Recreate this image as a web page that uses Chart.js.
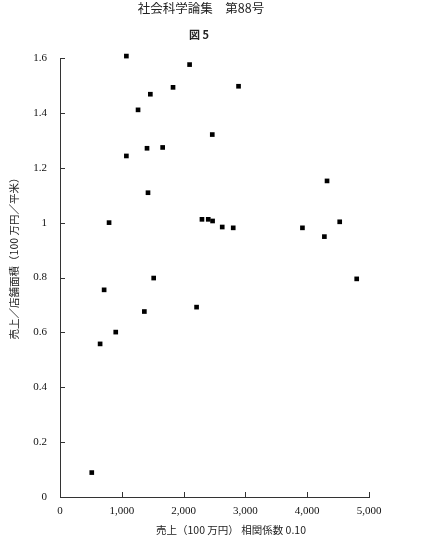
<!DOCTYPE html>
<html>
<head>
<meta charset="utf-8">
<script src="https://cdn.jsdelivr.net/npm/chart.js@4.4.1/dist/chart.umd.min.js"></script>
<style>
  html, body { margin: 0; padding: 0; background: #fff; }
  #wrap { width: 430px; height: 537px; }
</style>
</head>
<body>
<div id="wrap"><canvas id="scatterChart" width="430" height="537"></canvas></div>
<script>
const ctx = document.getElementById('scatterChart')

// texts
let headerText = '社会科学論集　第88号'
let figureText = '図 5'
let xTitle = '売上（100 万円） 相関係数 0.10'
let yTitle = '売上／店舗面積（100 万円／平米）'

// sales (100万円) and sales per floor area
let sales = [
  514, 649, 714, 794, 902, 1074, 1074, 1263, 1365, 1408,
  1424, 1462, 1516, 1661, 1829, 2097, 2210, 2297, 2399, 2464,
  2469, 2625, 2803, 2889, 3923, 4278, 4321, 4526, 4801
]
let salesPerArea = [
  0.089, 0.558, 0.755, 1.0, 0.601, 1.607, 1.243, 1.411, 0.676, 1.271,
  1.109, 1.468, 0.798, 1.274, 1.493, 1.576, 0.692, 1.012, 1.012, 1.321,
  1.006, 0.984, 0.981, 1.497, 0.981, 0.949, 1.152, 1.003, 0.795
]

let xTickLabels = ['0', '1,000', '2,000', '3,000', '4,000', '5,000']
let yTickLabels = ['0', '0.2', '0.4', '0.6', '0.8', '1', '1.2', '1.4', '1.6']

const points = sales.map((s, i) => ({ x: s, y: salesPerArea[i] }))

const tickFont = { family: '"Liberation Serif", "DejaVu Serif", serif', size: 11 }
const cjkFont = '"Noto Sans CJK JP", sans-serif'

// short inward tick marks + title texts
const extras = {
  id: 'extras',
  afterDraw(chart) {
    const { ctx, chartArea, scales } = chart
    ctx.save()
    ctx.strokeStyle = '#333'
    ctx.lineWidth = 1
    ctx.beginPath()
    scales.y.ticks.forEach(t => {
      const y = Math.round(scales.y.getPixelForValue(t.value)) + 0.5
      ctx.moveTo(chartArea.left, y)
      ctx.lineTo(chartArea.left + 5, y)
    })
    scales.x.ticks.forEach(t => {
      const x = Math.round(scales.x.getPixelForValue(t.value)) + 0.5
      ctx.moveTo(x, chartArea.bottom)
      ctx.lineTo(x, chartArea.bottom - 5)
    })
    ctx.stroke()

    ctx.fillStyle = '#222'
    ctx.textAlign = 'center'
    ctx.textBaseline = 'middle'
    ctx.font = '12.5px ' + cjkFont
    ctx.fillText(headerText, 201, 8)
    ctx.font = 'bold 11px ' + cjkFont
    ctx.fillText(figureText, 199, 35)
    ctx.font = '10.5px ' + cjkFont
    ctx.fillText(xTitle, 231, 530)

    ctx.translate(14, 256)
    ctx.rotate(-Math.PI / 2)
    ctx.fillText(yTitle, 0, 0)
    ctx.restore()
  }
}

new Chart(ctx, {
  type: 'scatter',
  data: {
    datasets: [{
      data: points,
      pointStyle: 'rect',
      pointRadius: 3.3,
      pointHoverRadius: 3.3,
      backgroundColor: '#000',
      borderWidth: 0,
      clip: false,
    }],
  },
  options: {
    responsive: false,
    animation: false,
    layout: {
      padding: { top: 58, right: 61, left: 0, bottom: 0 },
    },
    scales: {
      x: {
        type: 'linear',
        min: 0,
        max: 5000,
        afterFit: scale => { scale.height = 40 },
        afterBuildTicks: scale => {
          scale.ticks = [0, 1000, 2000, 3000, 4000, 5000].map(v => ({ value: v }))
        },
        grid: { display: false, drawTicks: false },
        border: { display: true, color: '#333', width: 1 },
        ticks: {
          padding: 8,
          color: '#111',
          font: tickFont,
          maxRotation: 0,
          callback: (value, index) => xTickLabels[index],
        },
      },
      y: {
        type: 'linear',
        min: 0,
        max: 1.6,
        afterFit: scale => { scale.width = 60 },
        afterBuildTicks: scale => {
          scale.ticks = yTickLabels.map(l => ({ value: parseFloat(l) }))
        },
        grid: { display: false, drawTicks: false },
        border: { display: true, color: '#333', width: 1 },
        ticks: {
          padding: 13,
          color: '#111',
          font: tickFont,
          callback: (value, index) => yTickLabels[index],
        },
      },
    },
    plugins: {
      legend: { display: false },
      tooltip: { enabled: false },
    },
  },
  plugins: [extras],
})
</script>
</body>
</html>
